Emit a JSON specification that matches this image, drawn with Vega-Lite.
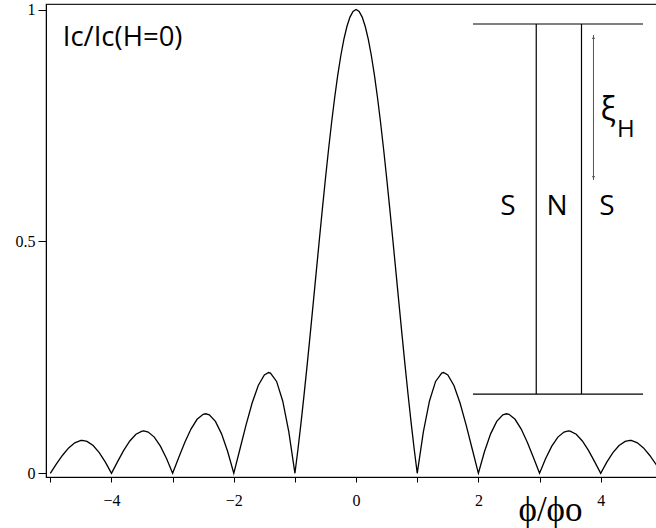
{
  "$schema": "https://vega.github.io/schema/vega-lite/v6.json",
  "autosize": "none",
  "padding": {"left": 46, "top": 4, "right": 0, "bottom": 51},
  "width": 612,
  "height": 473,
  "background": "white",
  "config": {
    "view": {"stroke": "#222", "strokeWidth": 1.2},
    "axis": {
      "grid": false, "tickColor": "black", "domainColor": "black", "tickWidth": 1, "domainWidth": 1,
      "labelFont": "Liberation Serif", "labelFontSize": 16, "labelColor": "black",
      "labelOverlap": false, "labelFlush": false
    }
  },
  "encoding": {
    "x": {
      "field": "x", "type": "quantitative",
      "scale": {"domain": [-5.0707, 4.937], "nice": false, "zero": false},
      "axis": {
        "values": [-5, -4, -3, -2, -1, 0, 1, 2, 3, 4],
        "format": "~g",
        "labelExpr": "datum.value % 2 == 0 ? datum.label : ''",
        "tickSize": 5, "labelPadding": 10,
        "title": "ϕ/ϕo", "titleFont": "Liberation Serif", "titleFontSize": 35, "titleFontWeight": "normal",
        "titleColor": "black", "titleX": 504, "titleY": 43, "titleBaseline": "alphabetic", "titleAlign": "center"
      }
    },
    "y": {
      "field": "y", "type": "quantitative",
      "scale": {"domain": [-0.008, 1.0119], "nice": false, "zero": false},
      "axis": {
        "values": [0, 0.5, 1], "format": "~g", "tickSize": 8, "labelPadding": 3,
        "title": null
      }
    }
  },
  "layer": [
    {
      "data": {"values": [
        {"x": -5, "y": 0}, {"x": -4.9, "y": 0.02007}, {"x": -4.8, "y": 0.03898}, {"x": -4.7, "y": 0.05479}, {"x": -4.6, "y": 0.06581}, {"x": -4.5, "y": 0.07074}, {"x": -4.4774, "y": 0.07091}, {"x": -4.4, "y": 0.0688}, {"x": -4.3, "y": 0.05989}, {"x": -4.2, "y": 0.04455}, {"x": -4.1, "y": 0.02399},
        {"x": -4, "y": 0}, {"x": -3.9, "y": 0.02522}, {"x": -3.8, "y": 0.04924}, {"x": -3.7, "y": 0.0696}, {"x": -3.6, "y": 0.08409}, {"x": -3.5, "y": 0.09095}, {"x": -3.4709, "y": 0.09133}, {"x": -3.4, "y": 0.08904}, {"x": -3.3, "y": 0.07804}, {"x": -3.2, "y": 0.05847}, {"x": -3.1, "y": 0.03173},
        {"x": -3, "y": 0}, {"x": -2.9, "y": 0.03392}, {"x": -2.8, "y": 0.06682}, {"x": -2.7, "y": 0.09538}, {"x": -2.6, "y": 0.11643}, {"x": -2.5, "y": 0.12732}, {"x": -2.459, "y": 0.12837}, {"x": -2.4, "y": 0.12614}, {"x": -2.3, "y": 0.11196}, {"x": -2.2, "y": 0.08504}, {"x": -2.1, "y": 0.04684},
        {"x": -2, "y": 0}, {"x": -1.9, "y": 0.05177}, {"x": -1.8, "y": 0.10394}, {"x": -1.7, "y": 0.15148}, {"x": -1.6, "y": 0.18921}, {"x": -1.5, "y": 0.21221}, {"x": -1.4303, "y": 0.21723}, {"x": -1.4, "y": 0.21624}, {"x": -1.3, "y": 0.19809}, {"x": -1.2, "y": 0.15592}, {"x": -1.1, "y": 0.08942},
        {"x": -1, "y": 0}, {"x": -0.95, "y": 0.05242}, {"x": -0.9, "y": 0.10929}, {"x": -0.85, "y": 0.17001}, {"x": -0.8, "y": 0.23387}, {"x": -0.75, "y": 0.30011}, {"x": -0.7, "y": 0.36788}, {"x": -0.65, "y": 0.43633}, {"x": -0.6, "y": 0.50455}, {"x": -0.55, "y": 0.57163}, {"x": -0.5, "y": 0.63662}, {"x": -0.45, "y": 0.69865}, {"x": -0.4, "y": 0.75683}, {"x": -0.35, "y": 0.81033}, {"x": -0.3, "y": 0.85839}, {"x": -0.25, "y": 0.90032}, {"x": -0.2, "y": 0.93549}, {"x": -0.15, "y": 0.9634}, {"x": -0.1, "y": 0.98363}, {"x": -0.05, "y": 0.99589},
        {"x": 0, "y": 1},
        {"x": 0.05, "y": 0.99589}, {"x": 0.1, "y": 0.98363}, {"x": 0.15, "y": 0.9634}, {"x": 0.2, "y": 0.93549}, {"x": 0.25, "y": 0.90032}, {"x": 0.3, "y": 0.85839}, {"x": 0.35, "y": 0.81033}, {"x": 0.4, "y": 0.75683}, {"x": 0.45, "y": 0.69865}, {"x": 0.5, "y": 0.63662}, {"x": 0.55, "y": 0.57163}, {"x": 0.6, "y": 0.50455}, {"x": 0.65, "y": 0.43633}, {"x": 0.7, "y": 0.36788}, {"x": 0.75, "y": 0.30011}, {"x": 0.8, "y": 0.23387}, {"x": 0.85, "y": 0.17001}, {"x": 0.9, "y": 0.10929}, {"x": 0.95, "y": 0.05242},
        {"x": 1, "y": 0}, {"x": 1.1, "y": 0.08942}, {"x": 1.2, "y": 0.15592}, {"x": 1.3, "y": 0.19809}, {"x": 1.4, "y": 0.21624}, {"x": 1.4303, "y": 0.21723}, {"x": 1.5, "y": 0.21221}, {"x": 1.6, "y": 0.18921}, {"x": 1.7, "y": 0.15148}, {"x": 1.8, "y": 0.10394}, {"x": 1.9, "y": 0.05177},
        {"x": 2, "y": 0}, {"x": 2.1, "y": 0.04684}, {"x": 2.2, "y": 0.08504}, {"x": 2.3, "y": 0.11196}, {"x": 2.4, "y": 0.12614}, {"x": 2.459, "y": 0.12837}, {"x": 2.5, "y": 0.12732}, {"x": 2.6, "y": 0.11643}, {"x": 2.7, "y": 0.09538}, {"x": 2.8, "y": 0.06682}, {"x": 2.9, "y": 0.03392},
        {"x": 3, "y": 0}, {"x": 3.1, "y": 0.03173}, {"x": 3.2, "y": 0.05847}, {"x": 3.3, "y": 0.07804}, {"x": 3.4, "y": 0.08904}, {"x": 3.4709, "y": 0.09133}, {"x": 3.5, "y": 0.09095}, {"x": 3.6, "y": 0.08409}, {"x": 3.7, "y": 0.0696}, {"x": 3.8, "y": 0.04924}, {"x": 3.9, "y": 0.02522},
        {"x": 4, "y": 0}, {"x": 4.1, "y": 0.02399}, {"x": 4.2, "y": 0.04455}, {"x": 4.3, "y": 0.05989}, {"x": 4.4, "y": 0.0688}, {"x": 4.4774, "y": 0.07091}, {"x": 4.5, "y": 0.07074}, {"x": 4.6, "y": 0.06581}, {"x": 4.7, "y": 0.05479}, {"x": 4.8, "y": 0.03898}, {"x": 4.9, "y": 0.02007}, {"x": 5, "y": 0}
      ]},
      "mark": {"type": "line", "color": "black", "strokeWidth": 1.3, "clip": true}
    },
    {
      "data": {"values": [
        {"x": 1.911, "x2": 4.692, "y": 0.9688, "y2": 0.9688},
        {"x": 1.911, "x2": 4.692, "y": 0.1707, "y2": 0.1707},
        {"x": 2.946, "x2": 2.946, "y": 0.9688, "y2": 0.1707},
        {"x": 3.686, "x2": 3.686, "y": 0.9688, "y2": 0.1707}
      ]},
      "mark": {"type": "rule", "color": "black", "strokeWidth": 1.2},
      "encoding": {"x2": {"field": "x2"}, "y2": {"field": "y2"}}
    },
    {
      "data": {"values": [{"x": 3.882, "x2": 3.882, "y": 0.945, "y2": 0.6324}]},
      "mark": {"type": "rule", "color": "#555", "strokeWidth": 1},
      "encoding": {"x2": {"field": "x2"}, "y2": {"field": "y2"}}
    },
    {
      "data": {"values": [{"x": 3.882, "y": 0.9395}]},
      "mark": {"type": "point", "shape": "triangle-up", "filled": true, "color": "#555", "size": 10, "opacity": 1}
    },
    {
      "data": {"values": [{"x": 3.882, "y": 0.6379}]},
      "mark": {"type": "point", "shape": "triangle-down", "filled": true, "color": "#555", "size": 10, "opacity": 1}
    },
    {
      "data": {"values": [{"x": -4.797, "y": 0.9213, "label": "Ic/Ic(H=0)"}]},
      "mark": {"type": "text", "align": "left", "baseline": "alphabetic", "font": "Open Sans", "fontSize": 27.5, "color": "black"},
      "encoding": {"text": {"field": "label"}}
    },
    {
      "data": {"values": [
        {"x": 2.481, "y": 0.5569, "label": "S"},
        {"x": 3.285, "y": 0.5569, "label": "N"},
        {"x": 4.103, "y": 0.5569, "label": "S"}
      ]},
      "mark": {"type": "text", "align": "center", "baseline": "alphabetic", "font": "Open Sans", "fontSize": 28, "color": "black"},
      "encoding": {"text": {"field": "label"}}
    },
    {
      "data": {"values": [{"x": 4.121, "y": 0.7617, "label": "ξ"}]},
      "mark": {"type": "text", "align": "center", "baseline": "alphabetic", "font": "Open Sans", "fontSize": 32, "color": "black"},
      "encoding": {"text": {"field": "label"}}
    },
    {
      "data": {"values": [{"x": 4.266, "y": 0.7252, "label": "H"}]},
      "mark": {"type": "text", "align": "left", "baseline": "alphabetic", "font": "Open Sans", "fontSize": 24, "color": "black"},
      "encoding": {"text": {"field": "label"}}
    }
  ]
}
